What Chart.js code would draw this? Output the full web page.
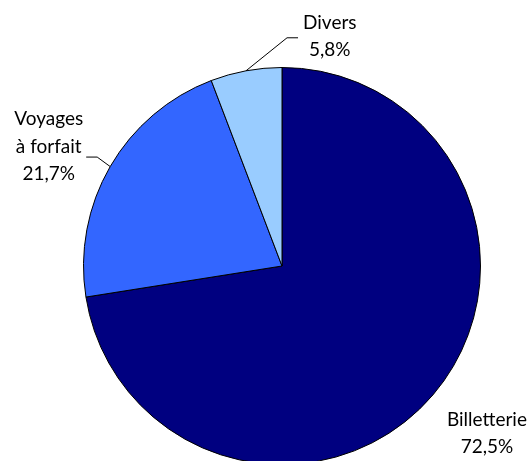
<!DOCTYPE html>
<html>
<head>
<meta charset="utf-8">
<script src="https://cdn.jsdelivr.net/npm/chart.js@4"></script>
<style>
  html, body { margin: 0; padding: 0; background: #fff; overflow: hidden; }
  #wrap { position: relative; width: 530px; height: 470px; }
</style>
</head>
<body>
<div id="wrap"><canvas id="pie" width="530" height="470"></canvas></div>
<script>
// --- data ---
const categories = ['Billetterie', 'Voyages\nà forfait', 'Divers'];
const shares = [72.5, 21.7, 5.8];
const shareLabels = ['72,5%', '21,7%', '5,8%'];
const sliceColors = ['#000080', '#3366FF', '#99CCFF'];

// label placement relative to the slice edge (dx/dy to elbow, then horizontal run)
const labelStyle = [
    { leader: false, tx: 54, ty: 31 },
    { leader: true, ex: -13, ey: -9.5, hx: -11, align: 'right', tx: -3, ty: -32 },
    { leader: true, ex: 41, ey: -33, hx: 11, align: 'left', tx: 5, ty: -9 }
];

const FONT = '19px Lato, "Open Sans", sans-serif';
const LINE_H = 27.5;

const labelPlugin = {
    id: 'sliceLabels',
    afterDraw(chart) {
        const ctx = chart.ctx;
        const arcs = chart.getDatasetMeta(0).data;
        ctx.save();
        ctx.font = FONT;
        ctx.fillStyle = '#000';
        ctx.strokeStyle = '#000';
        ctx.lineWidth = 1;
        ctx.textBaseline = 'alphabetic';
        arcs.forEach((arc, i) => {
            const st = labelStyle[i];
            const mid = (arc.startAngle + arc.endAngle) / 2;
            const px = arc.x + Math.cos(mid) * arc.outerRadius;
            const py = arc.y + Math.sin(mid) * arc.outerRadius;
            const lines = categories[i].split('\n').concat([shareLabels[i]]);
            let ax, ay;
            if (st.leader) {
                const elx = px + st.ex, ely = py + st.ey;
                const endx = elx + st.hx;
                ctx.beginPath();
                ctx.moveTo(px, py);
                ctx.lineTo(elx, ely);
                ctx.lineTo(endx, ely);
                ctx.stroke();
                ax = endx + st.tx; ay = ely + st.ty;
            } else {
                ax = px + st.tx; ay = py + st.ty;
            }
            // text block: centred lines
            const w = Math.max(...lines.map(l => ctx.measureText(l).width));
            let cx;
            if (st.align === 'right') cx = ax - w / 2;
            else if (st.align === 'left') cx = ax + w / 2;
            else cx = ax;
            ctx.textAlign = 'center';
            lines.forEach((l, k) => ctx.fillText(l, cx, ay + k * LINE_H));
        });
        ctx.restore();
    }
};

new Chart(document.getElementById('pie'), {
    type: 'pie',
    data: {
        labels: categories,
        datasets: [{
            data: shares,
            backgroundColor: sliceColors,
            borderColor: '#000',
            borderWidth: 1
        }]
    },
    options: {
        responsive: false,
        animation: false,
        layout: { padding: { left: 83, right: 49, top: 67, bottom: 5 } },
        plugins: { legend: { display: false }, tooltip: { enabled: false } }
    },
    plugins: [labelPlugin]
});
</script>
</body>
</html>
